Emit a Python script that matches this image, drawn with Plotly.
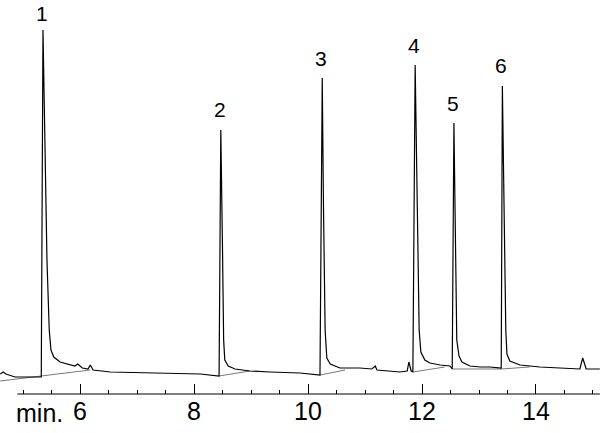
import plotly.graph_objects as go

# Chromatogram trace (time in min, response in % of largest peak)
time_min = [4.60, 4.65, 4.70, 4.86, 5.21, 5.32, 5.35, 5.39, 5.42, 5.46, 5.49, 5.54, 5.65, 5.91, 5.96,
            6.04, 6.14, 6.18, 6.23, 6.53, 7.23, 8.11, 8.44, 8.47, 8.50, 8.52, 8.54, 8.60, 8.72, 8.98,
            9.33, 9.86, 10.21, 10.25, 10.27, 10.30, 10.33, 10.39, 10.56, 10.91, 11.12, 11.18, 11.21,
            11.61, 11.74, 11.77, 11.81, 11.84, 11.88, 11.91, 11.95, 11.98, 12.05, 12.14, 12.32, 12.49,
            12.53, 12.56, 12.59, 12.61, 12.65, 12.70, 12.84, 13.02, 13.19, 13.37, 13.39, 13.41, 13.44,
            13.47, 13.49, 13.54, 13.72, 14.07, 14.42, 14.77, 14.82, 14.88, 15.12]
response = [5.49, 6.04, 5.49, 4.67, 4.67, 4.67, 100.0, 67.03, 36.81, 17.58, 12.09, 10.16, 8.79, 7.69, 8.24,
            7.14, 6.87, 7.97, 6.59, 6.04, 5.77, 5.49, 4.95, 72.53, 39.56, 14.84, 9.34, 7.69, 6.87, 6.32,
            6.04, 5.77, 5.22, 86.81, 53.30, 17.58, 9.89, 8.24, 7.14, 7.14, 6.87, 7.69, 6.59,
            6.04, 6.32, 8.79, 6.32, 6.04, 90.38, 53.30, 17.58, 11.54, 9.34, 8.52, 7.97, 7.69,
            6.87, 74.45, 39.56, 14.84, 10.44, 8.79, 7.69, 7.42, 7.42, 7.14, 7.14, 84.62, 47.80,
            17.58, 10.99, 9.07, 7.97, 7.42, 7.14, 6.87, 9.89, 6.87, 6.87]

# Integration baselines drawn under the peaks
base_time = [4.60, 6.18, None, 8.44, 8.98, None, 10.21, 10.65, None, 11.84, 12.40, None,
             12.53, 13.39, 13.89]
base_resp = [3.57, 6.59, None, 4.95, 6.32, None, 5.22, 6.59, None, 6.04, 7.42, None,
             6.87, 6.87, 7.42]

# Peak labels
peak_labels = ["1", "2", "3", "4", "5", "6"]
peak_times = [5.35, 8.47, 10.25, 11.88, 12.56, 13.41]
peak_heights = [100.0, 72.53, 86.81, 90.38, 74.45, 84.62]

tick_vals = [6, 8, 10, 12, 14]
tick_text = ["6", "8", "10", "12", "14"]

FONT = "Liberation Sans Narrow, Liberation Sans, Arial, sans-serif"

fig = go.Figure()
fig.add_trace(go.Scatter(x=base_time, y=base_resp, mode="lines",
                         line=dict(color="#555555", width=0.8), connectgaps=False,
                         hoverinfo="skip", showlegend=False))
fig.add_trace(go.Scatter(x=time_min, y=response, mode="lines",
                         line=dict(color="black", width=1.2), showlegend=False))

for i, (lab, t, h) in enumerate(zip(peak_labels, peak_times, peak_heights)):
    fig.add_annotation(x=t, y=h, text=lab, showarrow=False,
                       yshift=(16 if i == 0 else 20), xshift=-1,
                       yanchor="middle", xanchor="center",
                       font=dict(family=FONT, size=21, color="black"))

fig.add_annotation(x=14 / 600, xref="paper", xanchor="left", y=-0.047, yref="paper",
                   yanchor="middle", text="min.", showarrow=False,
                   font=dict(family=FONT, size=25, color="black"))

fig.add_shape(type="line", xref="x", yref="paper", x0=4.9, x1=15.12, y0=0, y1=0,
              line=dict(color="black", width=1))

fig.update_layout(
    width=600, height=433,
    margin=dict(l=0, r=0, t=0, b=39),
    paper_bgcolor="white", plot_bgcolor="white",
    xaxis=dict(range=[4.596, 15.123], showgrid=False, zeroline=False, showline=False,
               tickvals=tick_vals, ticktext=tick_text, ticks="inside", ticklen=10,
               tickcolor="black", tickwidth=1,
               tickfont=dict(family=FONT, size=25, color="black"),
               minor=dict(ticks="inside", ticklen=4, tickcolor="black", tickwidth=1,
                          dtick=0.5, tick0=5, showgrid=False)),
    yaxis=dict(range=[0, 108.24], visible=False, showgrid=False, zeroline=False),
)

fig.write_html("out.html", post_script="document.body.style.margin='0';",
               config={"displayModeBar": False})
